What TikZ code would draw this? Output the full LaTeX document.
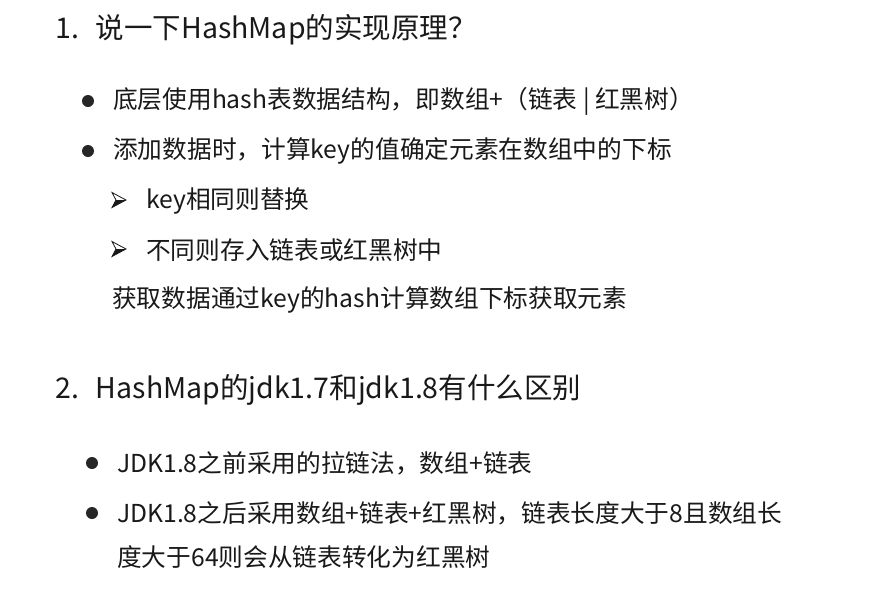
\documentclass[tikz,border=0pt]{standalone}
\usepackage{fontspec}
\setmainfont{Noto Sans CJK SC}
\usetikzlibrary{positioning}

\begin{document}
\begin{tikzpicture}[
    x=1pt, y=1pt,
    heading/.style={anchor=west, inner sep=0pt, text=black!90,
                font=\fontsize{28.5}{32}\selectfont},
    item/.style={anchor=west, inner sep=0pt, text=black!90,
                font=\fontsize{24.7}{30}\selectfont},
    dot/.style={circle, fill=black!85, inner sep=0pt, minimum size=12pt},
    arrowtip/.pic={
        \draw[black!90, line width=0.8pt, line join=miter] (-7,7.5) -- (7,0) -- (-7,-7.5) -- (-3,0) -- cycle;
        \fill[black!90] (-3,0) -- (7,0) -- (-7,-7.5) -- cycle;
    }
]

% Page
\useasboundingbox[fill=white] (0,0) rectangle (879,-614);

% Question 1
\node[heading] (q1) at (55,-30) {1.\hspace{17pt}说一下HashMap的实现原理？};

\node[dot] (d1) at (88,-101) {};
\node[item] (b1) at (113,-101) {底层使用hash表数据结构，即数组+（链表 | 红黑树）};
\node[dot] (d2) at (88,-151) {};
\node[item] (b2) at (113,-151) {添加数据时，计算key的值确定元素在数组中的下标};

\coordinate (a1) at (119,-200);
\pic at (a1) {arrowtip};
\node[item] (s1) at (146,-201) {key相同则替换};
\coordinate (a2) at (119,-249);
\pic at (a2) {arrowtip};
\node[item] (s2) at (146,-250) {不同则存入链表或红黑树中};

\node[item] (g1) at (112,-300) {获取数据通过key的hash计算数组下标获取元素};

% Question 2
\node[heading] (q2) at (55,-390) {2.\hspace{17pt}HashMap的jdk1.7和jdk1.8有什么区别};

\node[dot] (d3) at (92,-463) {};
\node[item] (c1) at (117,-463) {JDK1.8之前采用的拉链法，数组+链表};
\node[dot] (d4) at (92,-513) {};
\node[item] (c2) at (117,-513) {JDK1.8之后采用数组+链表+红黑树，链表长度大于8且数组长};
\node[item] (c3) at (117,-557) {度大于64则会从链表转化为红黑树};

\end{tikzpicture}
\end{document}
